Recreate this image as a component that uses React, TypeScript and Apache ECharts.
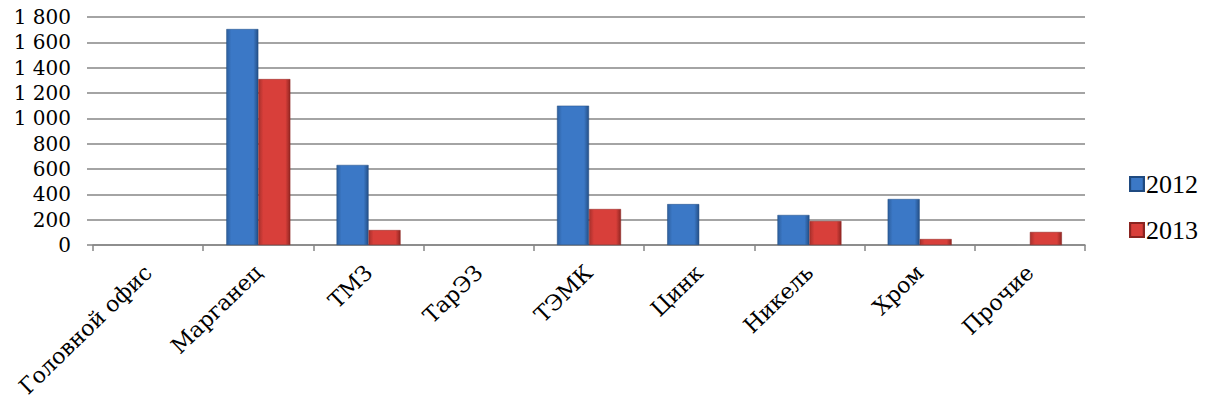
import React, { useEffect, useRef } from "react";
import * as echarts from "echarts";

const categories = ["Головной офис", "Марганец", "ТМЗ", "ТарЭЗ", "ТЭМК", "Цинк", "Никель", "Хром", "Прочие"];
const values2012 = [0, 1705, 632, 0, 1100, 323, 237, 363, 0];
const values2013 = [0, 1310, 118, 0, 284, 0, 189, 47, 103];
const seriesNames = ["2012", "2013"];

const blueFill = new echarts.graphic.LinearGradient(0, 0, 1, 0, [
  { offset: 0, color: "#2d5f9e" },
  { offset: 0.15, color: "#3b78c6" },
  { offset: 0.85, color: "#3b78c6" },
  { offset: 1, color: "#244f86" },
]);
const redFill = new echarts.graphic.LinearGradient(0, 0, 1, 0, [
  { offset: 0, color: "#a8302c" },
  { offset: 0.15, color: "#d83f3a" },
  { offset: 0.85, color: "#d83f3a" },
  { offset: 1, color: "#922622" },
]);

const fmt = (v: number) => {
  const s = String(Math.round(v));
  return s.replace(/\B(?=(\d{3})+(?!\d))/g, " ");
};

export default function App() {
  const ref = useRef<HTMLDivElement>(null);
  useEffect(() => {
    if (!ref.current) return;
    const chart = echarts.init(ref.current, undefined, { renderer: "svg" });
    const wide = "DejaVu Serif";
    const times = "Liberation Serif";
    chart.setOption({
      animation: false,
      textStyle: { fontFamily: times, fontSize: 19 },
      grid: { left: 93, right: 127, top: 17, bottom: 160, containLabel: false },
      legend: {
        orient: "vertical",
        left: 1124,
        top: 166,
        itemWidth: 14,
        itemHeight: 14,
        itemGap: 20,
        icon: "rect",
        textStyle: { fontFamily: times, fontSize: 26, color: "#000", padding: [0, 0, 0, -3] },
        data: seriesNames,
      },
      xAxis: {
        type: "category",
        data: categories,
        axisLine: { lineStyle: { color: "#868686", width: 1.5 } },
        axisTick: { show: true, length: 6, alignWithLabel: false, lineStyle: { color: "#868686", width: 1.5 } },
        axisLabel: {
          rotate: 44,
          interval: 0,
          margin: 24,
          fontFamily: wide,
          fontSize: 22,
          color: "#000",
        },
      },
      yAxis: {
        type: "value",
        min: 0,
        max: 1800,
        interval: 200,
        axisLine: { show: false },
        axisTick: { show: true, length: 6, lineStyle: { color: "#868686", width: 1.5 } },
        splitLine: { lineStyle: { color: "#868686", width: 1.5 } },
        axisLabel: {
          fontFamily: wide,
          fontSize: 20,
          color: "#000",
          margin: 22,
          formatter: (v: number) => fmt(v),
        },
      },
      series: [
        {
          name: seriesNames[0],
          type: "bar",
          data: values2012.map((v) => (v === 0 ? null : v)),
          barWidth: 32,
          barGap: "0%",
          itemStyle: { color: blueFill, borderColor: "#1f4a80", borderWidth: 0.5 },
        },
        {
          name: seriesNames[1],
          type: "bar",
          data: values2013.map((v) => (v === 0 ? null : v)),
          barWidth: 32,
          barGap: "0%",
          itemStyle: { color: redFill, borderColor: "#8a2420", borderWidth: 0.5 },
        },
      ],
    });
    return () => chart.dispose();
  }, []);
  return (
    <div
      ref={ref}
      style={{ position: "absolute", left: 0, top: 0, width: 1212, height: 405, background: "#fff" }}
    />
  );
}
